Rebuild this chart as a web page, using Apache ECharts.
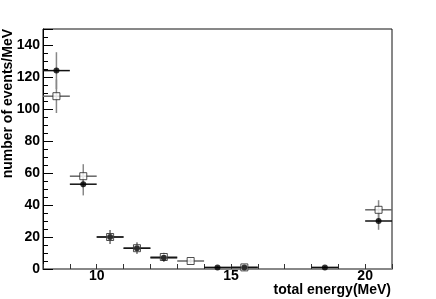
<!DOCTYPE html>
<html>
<head>
<meta charset="utf-8">
<script src="https://cdn.jsdelivr.net/npm/echarts@6/dist/echarts.min.js"></script>
<style>
html,body{margin:0;padding:0;background:#fff;}
#c{width:436px;height:299px;}
</style>
</head>
<body>
<div id="c"></div>
<script>
// ---- data ----
const binCenters   = [8.5, 9.5, 10.5, 11.5, 12.5, 13.5, 14.5, 15.5, 18.5, 20.5];
const binHalfWidth = 0.5;
const filledValues = [124, 53, 20, 13, 7, null, 1, 1, 1, 30];
const filledErrors = [11.5, 7, 4.4, 3.5, 2.7, null, 0.8, 0.8, 0.8, 5.5];
const openValues   = [108, 58, 20, 13, 7.5, 5, null, 1, null, 37];
const openErrors   = [10.5, 7.5, 4.4, 3.5, 2.7, 1.5, null, 0.8, null, 6];
const xTickLabels  = [10, 15, 20];
const yTickLabels  = [0, 20, 40, 60, 80, 100, 120, 140];
const xTitle = 'total energy(MeV)';
const yTitle = 'number of events/MeV';

function toPoints(vals, errs) {
  const out = [];
  for (let i = 0; i < binCenters.length; i++) {
    if (vals[i] === null) continue;
    out.push([binCenters[i], vals[i], errs[i]]);
  }
  return out;
}
const filledPts = toPoints(filledValues, filledErrors);
const openPts = toPoints(openValues, openErrors);

function errRender(hColor, vColor) {
  return function (params, api) {
    const x = api.value(0), y = api.value(1), e = api.value(2);
    const l = api.coord([x - binHalfWidth, y]);
    const r = api.coord([x + binHalfWidth, y]);
    const t = api.coord([x, y + e]);
    const b = api.coord([x, y - e]);
    return {
      type: 'group',
      children: [
        {type: 'line', shape: {x1: t[0], y1: t[1], x2: b[0], y2: b[1]}, style: {stroke: vColor, lineWidth: 1.5}},
        {type: 'line', shape: {x1: l[0], y1: l[1], x2: r[0], y2: r[1]}, style: {stroke: hColor, lineWidth: 1.5}}
      ]
    };
  };
}

const chart = echarts.init(document.getElementById('c'), null, {renderer: 'canvas'});
const font = '"Liberation Sans", Arial, Helvetica, sans-serif';
chart.setOption({
  animation: false,
  backgroundColor: '#fff',
  grid: {left: 43, top: 29, right: 44, bottom: 30, show: true, borderColor: '#111', borderWidth: 1, backgroundColor: 'transparent'},
  xAxis: {
    type: 'value', min: 8, max: 21, interval: 1,
    axisLine: {show: true, lineStyle: {color: '#888', width: 2}},
    axisTick: {show: true, inside: true, length: 5, lineStyle: {color: '#333'}},
    splitLine: {show: false},
    axisLabel: {
      margin: 0, color: '#000', fontFamily: font, fontWeight: 'bold', fontSize: 14, lineHeight: 14,
      formatter: v => xTickLabels.indexOf(v) >= 0 ? String(v) : ''
    }
  },
  yAxis: {
    type: 'value', min: 0, max: 150, interval: 20,
    axisLine: {show: true, lineStyle: {color: '#000', width: 1}},
    axisTick: {show: true, inside: true, length: 10, lineStyle: {color: '#000'}},
    minorTick: {show: true, splitNumber: 4, length: 5, lineStyle: {color: '#000'}},
    splitLine: {show: false},
    axisLabel: {
      margin: 3, color: '#000', fontFamily: font, fontWeight: 'bold', fontSize: 14,
      formatter: v => yTickLabels.indexOf(v) >= 0 ? String(v) : ''
    }
  },
  graphic: [
    {type: 'text', right: 45, top: 283, style: {text: xTitle, fill: '#000', font: 'bold 14px ' + font}},
    {type: 'text', left: 1, top: 29, rotation: Math.PI / 2, style: {text: yTitle, fill: '#000', font: 'bold 14px ' + font, textAlign: 'right', textVerticalAlign: 'top'}}
  ],
  series: [
    {type: 'custom', data: openPts, renderItem: errRender('#666', '#888'), z: 2},
    {type: 'custom', data: filledPts, renderItem: errRender('#111', '#888'), z: 3},
    {type: 'scatter', data: openPts, symbol: 'rect', symbolSize: 7, itemStyle: {color: '#fff', borderColor: '#222', borderWidth: 1}, z: 4},
    {type: 'scatter', data: filledPts, symbol: 'circle', symbolSize: 6, itemStyle: {color: '#000'}, z: 5}
  ]
});
</script>
</body>
</html>
